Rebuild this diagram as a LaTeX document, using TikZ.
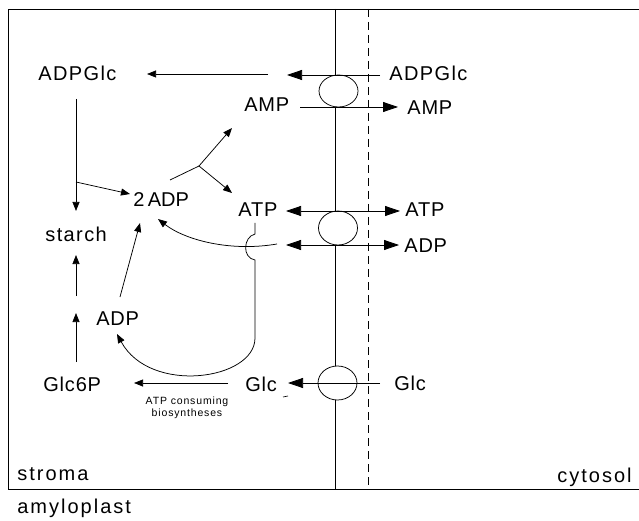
\documentclass[tikz,border=0pt]{standalone}
\usepackage{fontspec}
\setmainfont{Liberation Sans}
\usetikzlibrary{arrows.meta,shapes.geometric}
\begin{document}
\begin{tikzpicture}[x=1pt,y=-1pt,line width=0.75pt,
  lbl/.style={inner sep=0pt,anchor=base west,font=\fontsize{20}{22}\selectfont\addfontfeatures{LetterSpace=4}},
  wlbl/.style={inner sep=0pt,anchor=base west,font=\fontsize{20}{22}\selectfont\addfontfeatures{LetterSpace=10}},
  glclbl/.style={inner sep=0pt,anchor=base west,font=\fontsize{20}{22}\selectfont\addfontfeatures{LetterSpace=7}},
  bigarr/.style={-{Triangle[length=15pt,width=10pt]}},
  bigdbl/.style={{Triangle[length=15pt,width=10pt]}-{Triangle[length=15pt,width=10pt]}},
  smallarr/.style={-{Triangle[length=9pt,width=7pt]}},
  carrier/.style={draw,fill=white,ellipse,inner sep=0pt,minimum width=39pt}]
\useasboundingbox (0,0) rectangle (639,521);
% frame and membranes
\draw (639,9) -- (8,9) -- (8,489) -- (639,489);
\draw (335,9) -- (335,489);
\draw[dash pattern=on 8pt off 5pt] (368,9) -- (368,489);
% carriers
\node[carrier,minimum height=32pt] (c1) at (338.5,91) {};
\node[carrier,minimum height=34pt] (c2) at (338,228) {};
\node[carrier,minimum height=34pt] (c3) at (337.5,383) {};
% labels stroma
\node[glclbl] (adpglcS) at (38,81) {ADPGlc};
\node[lbl] (ampS) at (244,112) {AMP};
\node[lbl,font=\fontsize{20}{22}\selectfont] (twoadp) at (133,207) {2\,ADP};
\node[lbl] (atpS) at (238,217) {ATP};
\node[glclbl] (starch) at (45,241) {starch};
\node[lbl] (adpL) at (96,325) {ADP};
\node[lbl] (glc6p) at (43,391) {Glc6P};
\node[lbl] (glcS) at (245,391) {Glc};
% labels cytosol
\node[glclbl] (adpglcC) at (389,81) {ADPGlc};
\node[lbl] (ampC) at (407,115) {AMP};
\node[lbl] (atpC) at (405,217) {ATP};
\node[lbl] (adpC) at (404,252) {ADP};
\node[lbl] (glcC) at (394,390) {Glc};
\node[wlbl] (stroma) at (17,480) {stroma};
\node[wlbl] (cytosol) at (557,482) {cytosol};
\node[wlbl] (amylo) at (17,513) {amyloplast};
\node[align=center,inner sep=0pt,font=\fontsize{10.5}{12.5}\selectfont\addfontfeatures{LetterSpace=8}] (cons) at (187,408) {ATP consuming\\biosyntheses};
% transport arrows
\coordinate (a1) at (380,75); \coordinate (a1t) at (287,75);
\draw[bigarr] (a1) -- (a1t);
\coordinate (a2) at (300,107); \coordinate (a2t) at (398,107);
\draw[bigarr] (a2) -- (a2t);
\coordinate (a3) at (286,211); \coordinate (a3t) at (400,211);
\draw[bigdbl] (a3) -- (a3t);
\coordinate (a4) at (286,245); \coordinate (a4t) at (399,245);
\draw[bigdbl] (a4) -- (a4t);
\coordinate (a5) at (380,383); \coordinate (a5t) at (288,383);
\draw[bigarr] (a5) -- (a5t);
% stroma arrows
\coordinate (s1) at (268,74); \coordinate (s1t) at (147,74);
\draw[smallarr] (s1) -- (s1t);
\coordinate (s2) at (76,99); \coordinate (s2t) at (76,211); \coordinate (s2b) at (76,182);
\draw[smallarr] (s2) -- (s2t);
\coordinate (s3t) at (130,194);
\draw[smallarr] (s2b) -- (s3t);
\coordinate (s4) at (76,362); \coordinate (s4t) at (76,313);
\draw[smallarr] (s4) -- (s4t);
\coordinate (s5) at (76,296); \coordinate (s5t) at (76,255);
\draw[smallarr] (s5) -- (s5t);
\coordinate (s6) at (120,297); \coordinate (s6t) at (140,223);
\draw[smallarr] (s6) -- (s6t);
\coordinate (j0) at (170,180); \coordinate (j) at (199,166);
\coordinate (jA) at (232,128); \coordinate (jB) at (232,193);
\draw (j0) -- (j);
\draw[smallarr] (j) -- (jA);
\draw[smallarr] (j) -- (jB);
\coordinate (g1) at (228,383); \coordinate (g1t) at (134,383);
\draw[smallarr] (g1) -- (g1t);
% ADP back to 2 ADP
\coordinate (r1) at (277,244); \coordinate (r1t) at (158,219);
\draw[smallarr] (r1) .. controls (230,252) and (185,240) .. (r1t);
% ATP consumption loop
\coordinate (u0) at (255,223); \coordinate (u1) at (255,234); \coordinate (u2) at (255,260);
\coordinate (u3) at (255,338); \coordinate (u4) at (117,334);
\draw[smallarr] (u0) -- (u1) .. controls (243,237) and (242,258) .. (u2) -- (u3)
  .. controls (255,380) and (150,395) .. (u4);
% small mark near Glc
\draw[line width=0.6pt] (283,397) -- (288,396);
\end{tikzpicture}
\end{document}
